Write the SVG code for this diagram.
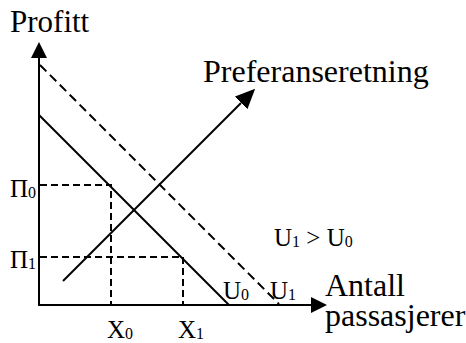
<svg xmlns="http://www.w3.org/2000/svg" width="466" height="343" viewBox="0 0 466 343">
<style>
text{font-family:"Liberation Serif","Times New Roman",serif;fill:#000}
.big{font-size:32px}
.lab{font-size:25px}
.sub{font-size:16px}
.ln{stroke:#000;stroke-width:2;fill:none}
.dash{stroke:#000;stroke-width:2;fill:none;stroke-dasharray:7,4}
.dash2{stroke:#000;stroke-width:2;fill:none;stroke-dasharray:9,5}
</style>
<defs>
<marker id="ah" markerUnits="userSpaceOnUse" markerWidth="16" markerHeight="16" viewBox="0 0 16 16" refX="0" refY="8" orient="auto">
<path d="M0,0 L16,8 L0,16 z" fill="#000"/>
</marker>
<marker id="ah2" markerUnits="userSpaceOnUse" markerWidth="20" markerHeight="18" viewBox="0 0 20 18" refX="0" refY="9" orient="auto">
<path d="M0,0 L20,9 L0,18 z" fill="#000"/>
</marker>
</defs>
<g id="connectors">
<line class="ln" x1="39" y1="306" x2="39" y2="58" marker-end="url(#ah)"/>
<line class="ln" x1="38" y1="305" x2="311" y2="305" marker-end="url(#ah)"/>
<line class="ln" x1="39" y1="115" x2="229" y2="305"/>
<line class="dash2" x1="40" y1="65" x2="279" y2="304"/>
<line class="ln" x1="63" y1="281" x2="241" y2="103" marker-end="url(#ah2)"/>
<polyline class="dash" points="40,185 111,185 111,304"/>
<polyline class="dash" points="40,257 183,257 183,304"/>
</g>
<g id="label-profitt"><text class="big" x="10" y="32" style="font-size:31px">Profitt</text></g>
<g id="label-pref"><text class="big" x="203" y="82">Preferanseretning</text></g>
<g id="label-antall"><text class="big" x="325" y="296">Antall</text><text class="big" x="325" y="326">passasjerer</text></g>
<g id="label-pi0"><text class="lab" x="10" y="197">Π<tspan class="sub" dy="1">0</tspan></text></g>
<g id="label-pi1"><text class="lab" x="10" y="268">Π<tspan class="sub" dy="1">1</tspan></text></g>
<g id="label-x0"><text class="lab" x="107" y="338">X<tspan class="sub" dy="1">0</tspan></text></g>
<g id="label-x1"><text class="lab" x="178" y="338">X<tspan class="sub" dy="1">1</tspan></text></g>
<g id="label-u0"><text class="lab" x="223" y="299">U<tspan class="sub" dy="1">0</tspan></text></g>
<g id="label-u1"><text class="lab" x="270" y="299">U<tspan class="sub" dy="1">1</tspan></text></g>
<g id="label-cmp"><text class="lab" x="274" y="246">U<tspan class="sub" dy="1">1</tspan><tspan dy="-1"> &gt; U</tspan><tspan class="sub" dy="1">0</tspan></text></g>
</svg>
